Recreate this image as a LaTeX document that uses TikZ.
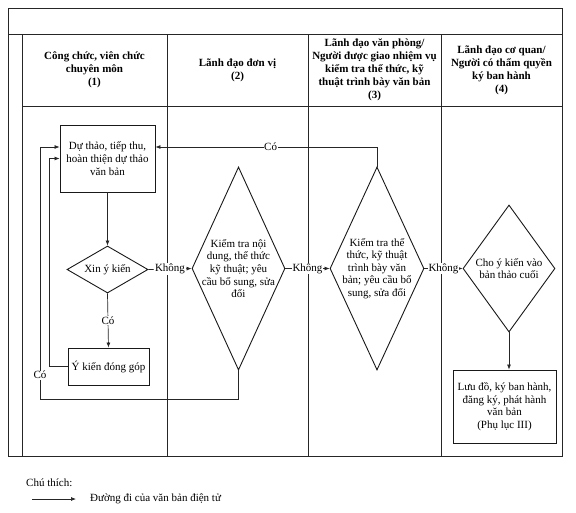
\documentclass[tikz,border=0pt]{standalone}
\usepackage{fontspec}
\setmainfont{Liberation Serif}
\usetikzlibrary{shapes.geometric,arrows.meta}
\begin{document}
\begin{tikzpicture}[x=1pt,y=-1pt,
  frameline/.style={line width=0.8pt, draw=black!85},
  conn/.style={line width=0.7pt, draw=black!85},
  arr/.style={conn, -{Latex[length=5pt,width=4pt]}},
  hdr/.style={font=\fontsize{11}{12.9}\selectfont\bfseries, align=center, inner sep=0pt},
  txt/.style={font=\fontsize{11}{12.6}\selectfont, align=center, inner sep=0pt},
  procbox/.style={draw=black!90, line width=0.9pt, inner sep=0pt},
  dia/.style={diamond, draw=black!90, line width=0.9pt, inner sep=0pt},
  lbl/.style={font=\fontsize{11}{12}\selectfont, fill=white, inner sep=0.6pt}
]
\useasboundingbox (0,0) rectangle (576,512);
\fill[white] (0,0) rectangle (576,512);

% frame and swimlanes
\draw[frameline] (8,8) rectangle (562,456);
\draw[frameline] (8,34) -- (562,34);
\draw[frameline] (22,106) -- (562,106);
\draw[frameline] (22,34) -- (22,456);
\draw[frameline] (167,34) -- (167,456);
\draw[frameline] (308,34) -- (308,456);
\draw[frameline] (441,34) -- (441,456);

% headers
\node[hdr] (h1) at (94.5,70) {Công chức, viên chức\\chuyên môn\\(1)};
\node[hdr] (h2) at (237.5,70) {Lãnh đạo đơn vị\\(2)};
\node[hdr] (h3) at (374.5,70) {Lãnh đạo văn phòng/\\Người được giao nhiệm vụ\\kiểm tra thể thức, kỹ\\thuật trình bày văn bản\\(3)};
\node[hdr] (h4) at (501.5,70) {Lãnh đạo cơ quan/\\Người có thẩm quyền\\ký ban hành\\(4)};

% process boxes
\node[procbox, minimum width=95pt, minimum height=67pt] (A) at (107.5,158.5) {};
\node[txt] (At) at (A.center) {Dự thảo, tiếp thu,\\hoàn thiện dự thảo\\văn bản};
\node[procbox, minimum width=81pt, minimum height=37pt] (B) at (108.5,366.5) {};
\node[txt] (Bt) at (B.center) {Ý kiến đóng góp};
\node[procbox, minimum width=103pt, minimum height=73pt] (C) at (504.5,406.5) {};
\node[txt] (Ct) at (C.center) {Lưu đồ, ký ban hành,\\đăng ký, phát hành\\văn bản\\(Phụ lục III)};

% decision diamonds
\node[dia, minimum width=81pt, minimum height=47pt] (X) at (107.5,269.5) {};
\node[txt] (Xt) at (X.center) {Xin ý kiến};
\node[dia, minimum width=93pt, minimum height=203pt] (D1) at (238.5,268.5) {};
\node[txt] (D1t) at (D1.center) {Kiểm tra nội\\dung, thể thức\\kỹ thuật; yêu\\cầu bổ sung, sửa\\đổi};
\node[dia, minimum width=94pt, minimum height=203pt] (D2) at (377,268.5) {};
\node[txt] (D2t) at (D2.center) {Kiểm tra thể\\thức, kỹ thuật\\trình bày văn\\bản; yêu cầu bổ\\sung, sửa đổi};
\node[dia, minimum width=92pt, minimum height=127pt] (D3) at (509,268.5) {};
\node[txt] (D3t) at (D3.center) {Cho ý kiến vào\\bản thảo cuối};

% helper coordinates
\coordinate (yTop) at (0,147);
\coordinate (loopA) at (40,399);
\coordinate (loopB) at (49,366.5);

% connectors
\draw[arr] (A.south) -- (X.north);
\draw[arr] (X.south) -- node[lbl] {Có} (B.north);
\draw[arr] (X.east) -- node[lbl] {Không} (D1.west);
\draw[arr] (D1.east) -- node[lbl] {Không} (D2.west);
\draw[arr] (D2.east) -- node[lbl] {Không} (D3.west);
\draw[arr] (D3.south) -- (D3.south |- C.north);
\draw[arr] (D2.north) |- node[lbl, pos=0.74] {Có} (A.east |- yTop);
\draw[arr] (D1.south) |- (loopA) -- node[lbl, pos=0.095] {Có} (loopA |- yTop) -- (A.west |- yTop);
\draw[arr] (B.west) -- (loopB) |- (A.west);

% legend
\node[txt, anchor=west] (note) at (26,483) {Chú thích:};
\coordinate (lg1) at (32,499);
\coordinate (lg2) at (76,499);
\draw[arr] (lg1) -- (lg2);
\node[txt, anchor=west] (legtxt) at (90,499) {Đường đi của văn bản điện tử};
\end{tikzpicture}
\end{document}
